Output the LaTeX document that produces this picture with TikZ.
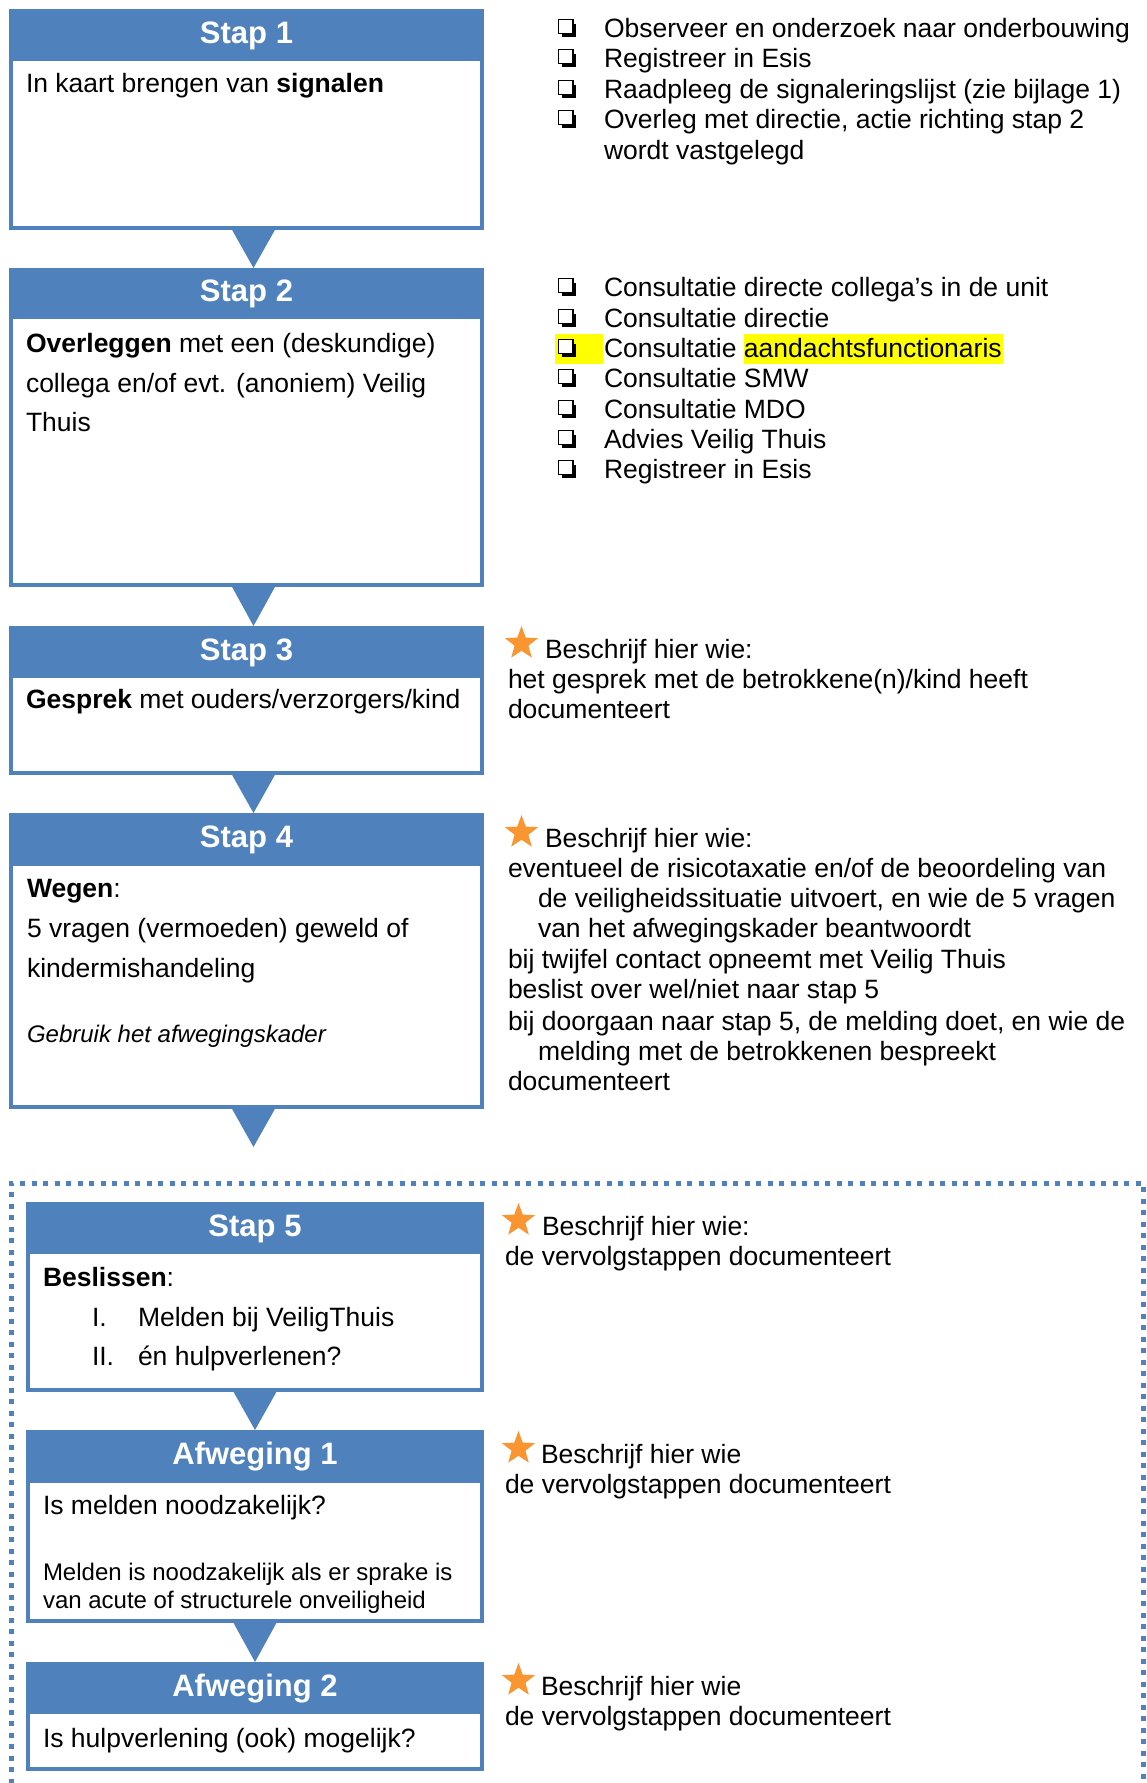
\documentclass[tikz,border=0pt]{standalone}
\usepackage{fontspec}
\setmainfont{Liberation Sans}
\usetikzlibrary{shapes.geometric}
\definecolor{stepblue}{RGB}{79,129,189}
\definecolor{starorange}{RGB}{250,150,50}
\definecolor{hlyellow}{RGB}{255,255,0}
\newcommand\fbody{\fontsize{13.25pt}{15.2pt}\selectfont}
\newcommand\fhead{\fontsize{15.5pt}{18pt}\selectfont\bfseries}
\newcommand\fsmall{\fontsize{12pt}{14pt}\selectfont}
\begin{document}
\begin{tikzpicture}[x=0.5pt,y=-0.5pt,
  bodybox/.style={draw=stepblue, line width=2pt, fill=white, inner sep=0pt, outer sep=0pt},
  headbox/.style={fill=stepblue, inner sep=0pt, outer sep=0pt, text=white, font=\fhead, text height=11.3pt, text depth=3.25pt},
  txt/.style={anchor=base west, inner sep=0pt, outer sep=0pt, font=\fbody},
  smalltxt/.style={anchor=base west, inner sep=0pt, outer sep=0pt, font=\fsmall},
  tri/.style={fill=stepblue},
  staricon/.style={star, star points=5, star point ratio=2.4, fill=starorange, inner sep=0pt, minimum size=17.5pt},
  frameline/.style={draw=stepblue, line width=2.5pt, dash pattern=on 2.5pt off 3.25pt},
  cbox/.pic={\fill[black] (3.5,-13.5) rectangle (17.5,0);
             \draw[black, line width=0.9pt, fill=white] (0.5,-17.5) rectangle (15,-3.5);}
]
\useasboundingbox (0,0) rectangle (1146,1783);

% dotted frame
\draw[frameline] (11,1795) -- (11,1183) -- (1143,1183) -- (1143,1795);

% ---------- boxes upper ----------
\node[bodybox, minimum width=235.5pt, minimum height=108.5pt] (b1) at (246.5,119.5) {};
\node[headbox, minimum width=237.5pt, minimum height=26pt] (h1) at (246.5,35) {Stap 1};

\node[bodybox, minimum width=235.5pt, minimum height=157.5pt] (b2) at (246.5,427.5) {};
\node[headbox, minimum width=237.5pt, minimum height=25.5pt] (h2) at (246.5,293.5) {Stap 2};

\node[bodybox, minimum width=235.5pt, minimum height=72.5pt] (b3) at (246.5,700.5) {};
\node[headbox, minimum width=237.5pt, minimum height=26pt] (h3) at (246.5,652) {Stap 3};

\node[bodybox, minimum width=235.5pt, minimum height=146pt] (b4) at (246.5,961) {};
\node[headbox, minimum width=237.5pt, minimum height=26.5pt] (h4) at (246.5,839.5) {Stap 4};

% ---------- boxes lower ----------
\node[bodybox, minimum width=227pt, minimum height=93pt] (b5) at (255,1297) {};
\node[headbox, minimum width=229pt, minimum height=26pt] (h5) at (255,1228) {Stap 5};

\node[bodybox, minimum width=227pt, minimum height=94.5pt] (b6) at (255,1526.5) {};
\node[headbox, minimum width=229pt, minimum height=26.5pt] (h6) at (255,1456.5) {Afweging 1};

\node[bodybox, minimum width=227pt, minimum height=52.5pt] (b7) at (255,1716.5) {};
\node[headbox, minimum width=229pt, minimum height=26pt] (h7) at (255,1688) {Afweging 2};

% ---------- triangles ----------
\coordinate (t4end) at (253.5,1147);
\fill[tri] ([xshift=-7.75pt]b1.south) -- ([xshift=14.75pt]b1.south) -- ([xshift=3.5pt]h2.north) -- cycle;
\fill[tri] ([xshift=-7.75pt]b2.south) -- ([xshift=14.75pt]b2.south) -- ([xshift=3.5pt]h3.north) -- cycle;
\fill[tri] ([xshift=-7.75pt]b3.south) -- ([xshift=14.75pt]b3.south) -- ([xshift=3.5pt]h4.north) -- cycle;
\fill[tri] ([xshift=-7.75pt]b4.south) -- ([xshift=14.75pt]b4.south) -- (t4end) -- cycle;
\fill[tri] ([xshift=-11.25pt]b5.south) -- ([xshift=11.25pt]b5.south) -- (h6.north) -- cycle;
\fill[tri] ([xshift=-11.25pt]b6.south) -- ([xshift=11.25pt]b6.south) -- (h7.north) -- cycle;

% ---------- box texts ----------
\node[txt] (t1) at (26,92) {In kaart brengen van \textbf{signalen}};
\node[txt] (t2a) at (26,352) {\textbf{Overleggen} met een (deskundige)};
\node[txt] (t2b) at (26,392) {collega en/of evt. (anoniem) Veilig};
\node[txt] (t2c) at (26,431) {Thuis};
\node[txt] (t3) at (26,708) {\textbf{Gesprek} met ouders/verzorgers/kind};
\node[txt] (t4a) at (27,897) {\textbf{Wegen}:};
\node[txt] (t4b) at (27,937) {5 vragen (vermoeden) geweld of};
\node[txt] (t4c) at (27,977) {kindermishandeling};
\node[smalltxt, font=\fsmall\itshape] (t4d) at (27,1042) {Gebruik het afwegingskader};
\node[txt] (t5a) at (43,1286) {\textbf{Beslissen}:};
\node[txt] (t5b) at (92,1326) {I.};
\node[txt] (t5c) at (138,1326) {Melden bij VeiligThuis};
\node[txt] (t5d) at (92,1365) {II.};
\node[txt] (t5e) at (138,1365) {én hulpverlenen?};
\node[txt] (t6a) at (43,1514) {Is melden noodzakelijk?};
\node[smalltxt] (t6b) at (43,1580) {Melden is noodzakelijk als er sprake is};
\node[smalltxt] (t6c) at (43,1608) {van acute of structurele onveiligheid};
\node[txt] (t7a) at (43,1747) {Is hulpverlening (ook) mogelijk?};

% ---------- checklists ----------
\fill[hlyellow] (555,334) rectangle (603,364);
\fill[hlyellow] (744,334) rectangle (1003,364);
\foreach \b in {37,67,98,128,296,327,357,387,418,448,478} \pic at (558,\b) {cbox};
\foreach \b/\t [count=\i] in {37/{Observeer en onderzoek naar onderbouwing},
  67/{Registreer in Esis},
  98/{Raadpleeg de signaleringslijst (zie bijlage 1)},
  128/{Overleg met directie, actie richting stap 2},
  159/{wordt vastgelegd},
  296/{Consultatie directe collega’s in de unit},
  327/{Consultatie directie},
  357/{Consultatie aandachtsfunctionaris},
  387/{Consultatie SMW},
  418/{Consultatie MDO},
  448/{Advies Veilig Thuis},
  478/{Registreer in Esis}}
  \node[txt] (c\i) at (604,\b) {\t};

% ---------- star notes ----------
\node[staricon] (s3) at (521.5,643.5) {};
\node[txt] (r3a) at (545,658) {Beschrijf hier wie:};
\node[txt] (r3b) at (508,688) {het gesprek met de betrokkene(n)/kind heeft};
\node[txt] (r3c) at (508,718) {documenteert};

\node[staricon] (s4) at (521.5,832.5) {};
\node[txt] (r4a) at (545,847) {Beschrijf hier wie:};
\node[txt] (r4b) at (508,877) {eventueel de risicotaxatie en/of de beoordeling van};
\node[txt] (r4c) at (538,907) {de veiligheidssituatie uitvoert, en wie de 5 vragen};
\node[txt] (r4d) at (538,937) {van het afwegingskader beantwoordt};
\node[txt] (r4e) at (508,968) {bij twijfel contact opneemt met Veilig Thuis};
\node[txt] (r4f) at (508,998) {beslist over wel/niet naar stap 5};
\node[txt] (r4g) at (508,1030) {bij doorgaan naar stap 5, de melding doet, en wie de};
\node[txt] (r4h) at (538,1060) {melding met de betrokkenen bespreekt};
\node[txt] (r4i) at (508,1090) {documenteert};

\node[staricon] (s5) at (518.5,1220.5) {};
\node[txt] (r5a) at (542,1235) {Beschrijf hier wie:};
\node[txt] (r5b) at (505,1265) {de vervolgstappen documenteert};

\node[staricon] (s6) at (518.5,1448.5) {};
\node[txt] (r6a) at (541,1463) {Beschrijf hier wie};
\node[txt] (r6b) at (505,1493) {de vervolgstappen documenteert};

\node[staricon] (s7) at (518.5,1680.5) {};
\node[txt] (r7a) at (541,1695) {Beschrijf hier wie};
\node[txt] (r7b) at (505,1725) {de vervolgstappen documenteert};
\end{tikzpicture}
\end{document}
